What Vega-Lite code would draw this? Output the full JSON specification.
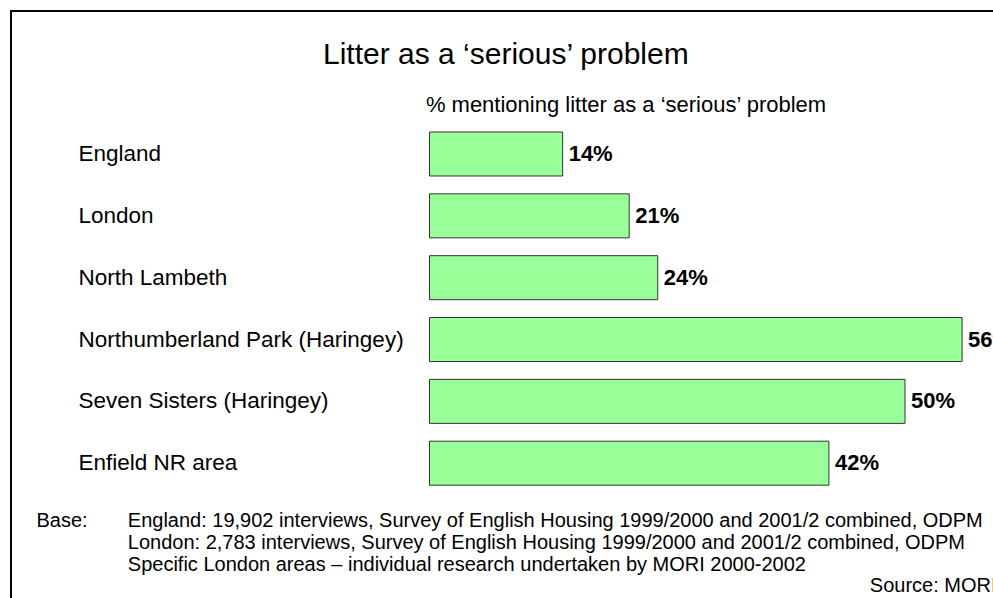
{
  "$schema": "https://vega.github.io/schema/vega-lite/v6.json",
  "width": 1002,
  "height": 607,
  "autosize": {"type": "none"},
  "padding": {"left": 11, "top": 11, "right": -20, "bottom": -20},
  "background": "white",
  "config": {"view": {"stroke": "black", "strokeWidth": 2}, "font": "Liberation Sans"},
  "title": {
    "text": "Litter as a ‘serious’ problem",
    "frame": "group",
    "anchor": "start",
    "fontSize": 30,
    "fontWeight": "normal",
    "color": "black",
    "font": "Liberation Sans",
    "baseline": "alphabetic",
    "offset": 0,
    "dy": 83,
    "dx": 312
  },
  "data": {
    "values": [
      {"area": "England", "share": 0.14},
      {"area": "London", "share": 0.21},
      {"area": "North Lambeth", "share": 0.24},
      {"area": "Northumberland Park (Haringey)", "share": 0.56},
      {"area": "Seven Sisters (Haringey)", "share": 0.50},
      {"area": "Enfield NR area", "share": 0.42}
    ]
  },
  "layer": [
    {
      "mark": {"type": "bar", "fill": "#99FF99", "stroke": "#333333", "strokeWidth": 1, "opacity": 1},
      "encoding": {
        "y": {
          "field": "area",
          "type": "nominal",
          "sort": null,
          "scale": {"range": [121, 474.2], "paddingInner": 0.2885, "paddingOuter": 0},
          "axis": {
            "orient": "left",
            "domain": false,
            "ticks": false,
            "tickSize": 0,
            "grid": false,
            "labelAlign": "left",
            "labelPadding": -67,
            "labelFontSize": 22.5,
            "labelColor": "black",
            "labelFont": "Liberation Sans",
            "labelLimit": 0,
            "labelBaseline": "middle",
            "title": "Base:",
            "titleAngle": 0,
            "titleX": 25,
            "titleY": 515.7,
            "titleAlign": "left",
            "titleBaseline": "alphabetic",
            "titleFontSize": 20,
            "titleFontWeight": "normal",
            "titleColor": "black",
            "titleFont": "Liberation Sans"
          }
        },
        "x": {
          "field": "share",
          "type": "quantitative",
          "scale": {"domain": [-0.44006, 0.61356], "nice": false, "zero": false},
          "axis": {
            "orient": "top",
            "domain": false,
            "ticks": false,
            "labels": false,
            "grid": false,
            "title": "% mentioning litter as a ‘serious’ problem",
            "titleX": 614.5,
            "titleY": 100.7,
            "titleAlign": "center",
            "titleBaseline": "alphabetic",
            "titleFontSize": 22,
            "titleFontWeight": "normal",
            "titleColor": "black",
            "titleFont": "Liberation Sans",
            "titleLimit": 2000
          }
        },
        "x2": {"datum": 0}
      }
    },
    {
      "mark": {"type": "text", "align": "left", "baseline": "middle", "dx": 6, "fontSize": 22, "fontWeight": "bold", "font": "Liberation Sans", "color": "black"},
      "encoding": {
        "y": {
          "field": "area",
          "type": "nominal",
          "sort": null,
          "axis": {
            "orient": "right",
            "domain": false,
            "ticks": false,
            "labels": false,
            "grid": false,
            "title": "Source: MORI",
            "titleAngle": 0,
            "titleX": -143.7,
            "titleY": 580.7,
            "titleAlign": "left",
            "titleBaseline": "alphabetic",
            "titleFontSize": 20,
            "titleFontWeight": "normal",
            "titleColor": "black",
            "titleFont": "Liberation Sans"
          }
        },
        "x": {
          "field": "share",
          "type": "quantitative",
          "axis": {
            "orient": "bottom",
            "domain": false,
            "ticks": false,
            "labels": false,
            "grid": false,
            "title": [
              "England: 19,902 interviews, Survey of English Housing 1999/2000 and 2001/2 combined, ODPM",
              "London: 2,783 interviews, Survey of English Housing 1999/2000 and 2001/2 combined, ODPM",
              "Specific London areas – individual research undertaken by MORI 2000-2002"
            ],
            "titleX": 116.3,
            "titleY": -91.3,
            "titleAlign": "left",
            "titleBaseline": "alphabetic",
            "titleLineHeight": 22,
            "titleFontSize": 20,
            "titleFontWeight": "normal",
            "titleColor": "black",
            "titleFont": "Liberation Sans",
            "titleLimit": 2000
          }
        },
        "text": {"field": "share", "type": "quantitative", "format": ".0%"}
      }
    }
  ]
}
